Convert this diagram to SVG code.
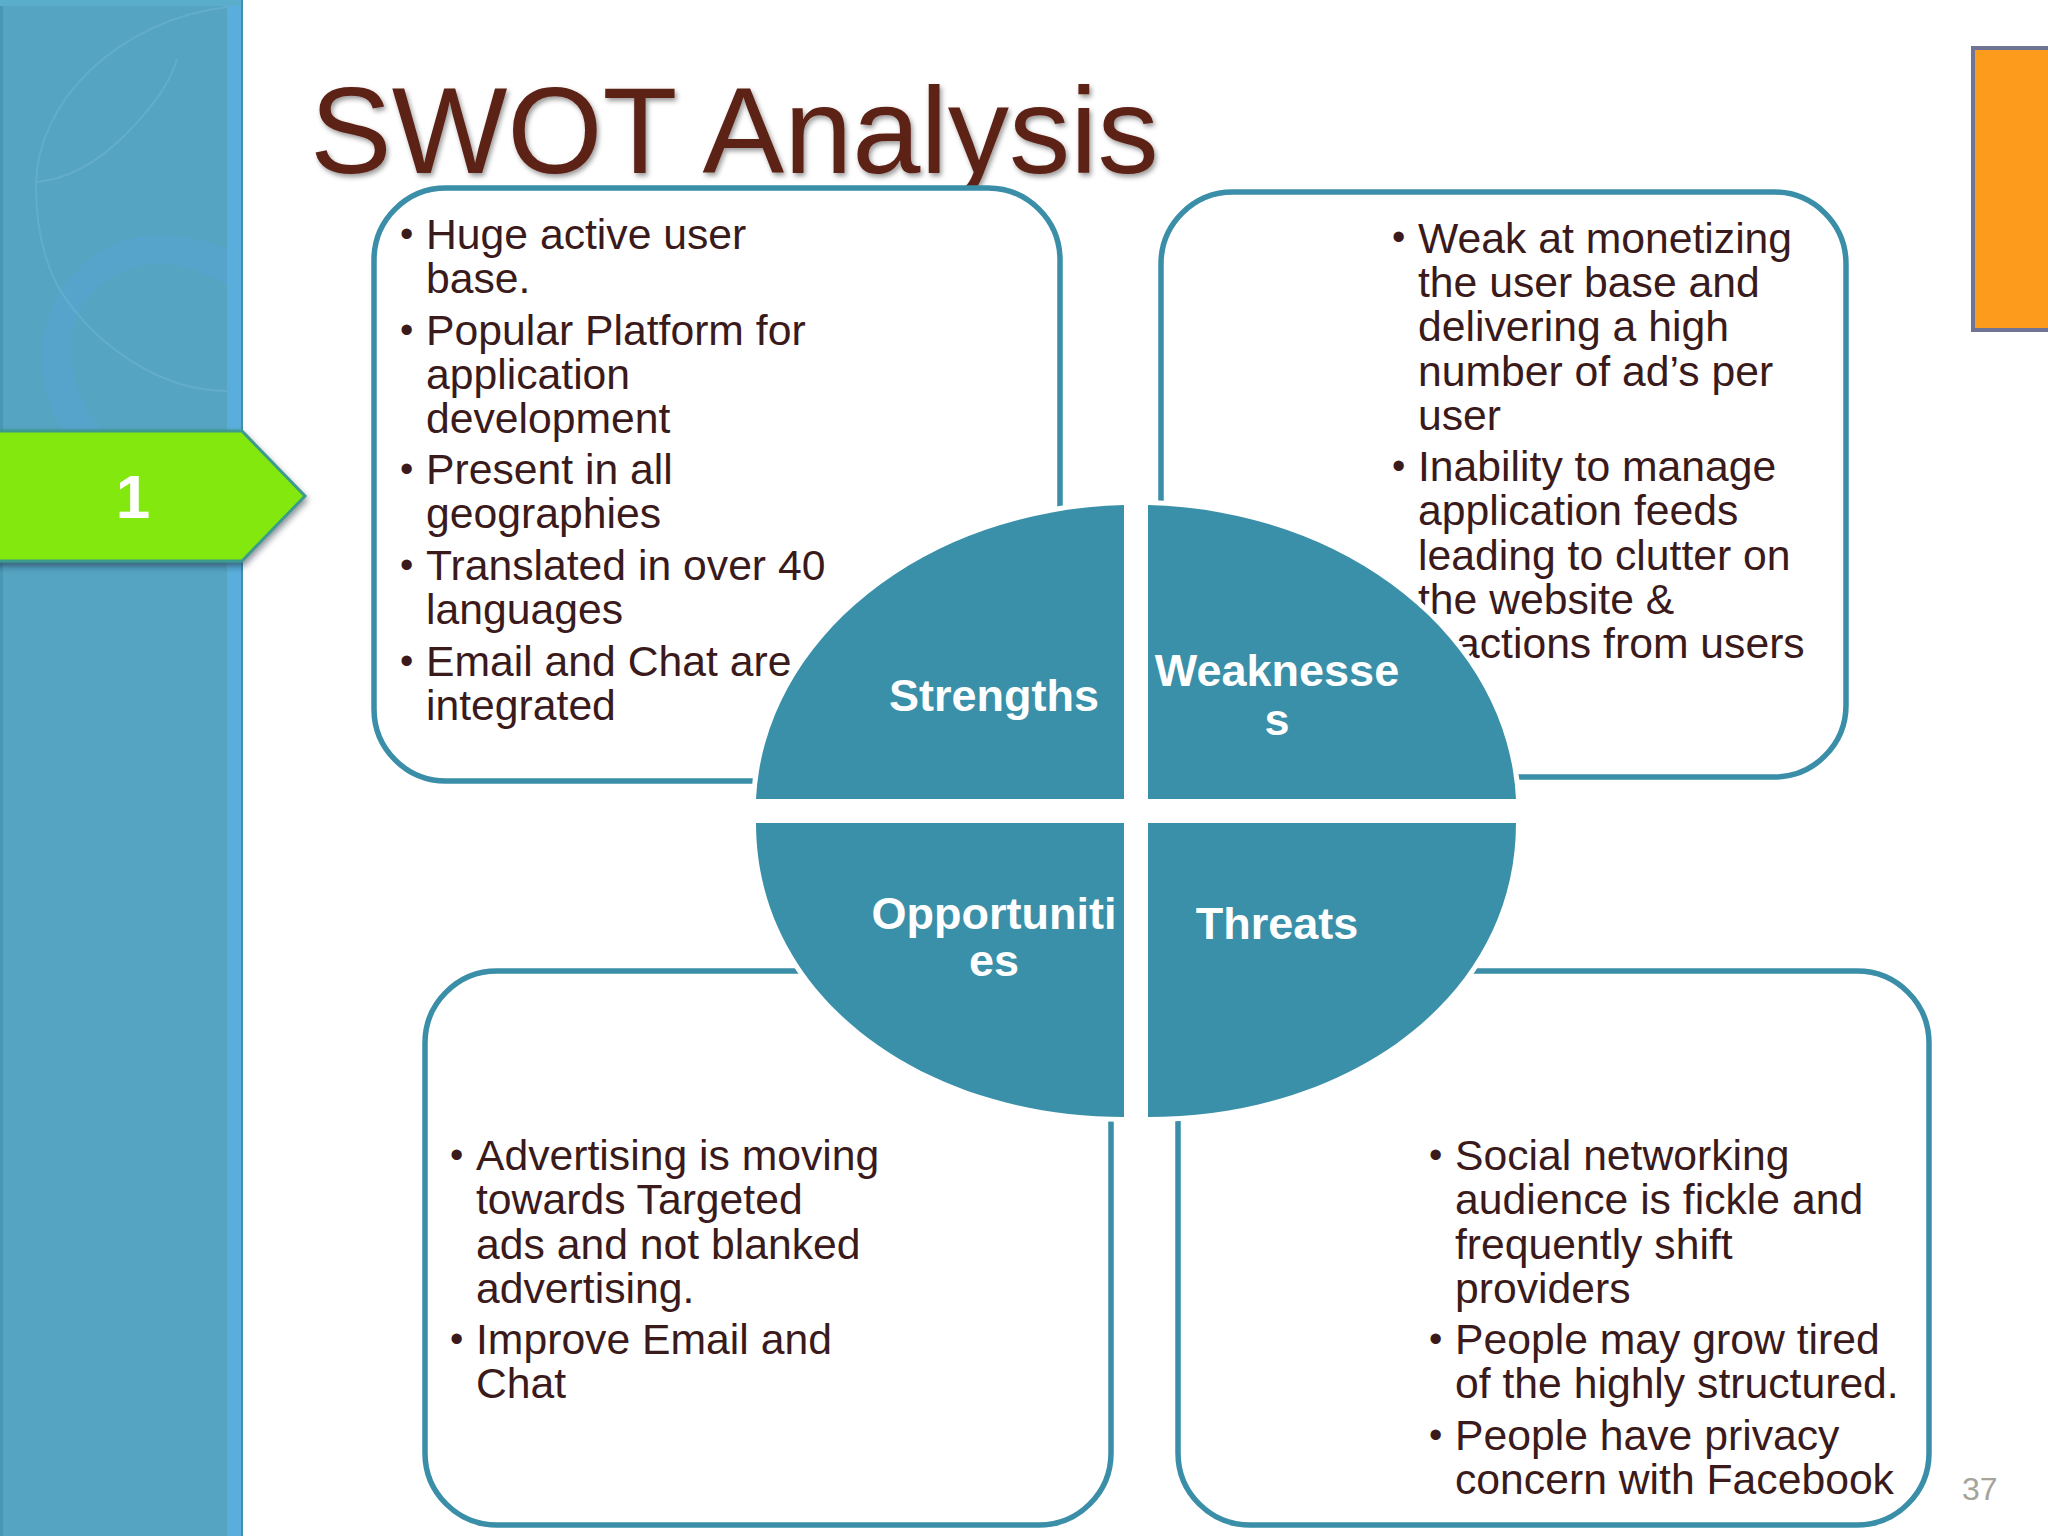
<svg xmlns="http://www.w3.org/2000/svg" width="2048" height="1536" viewBox="0 0 2048 1536">
<style>
text{font-family:"Liberation Sans",Arial,sans-serif}
.box{fill:#fff;stroke:#3b8ea8;stroke-width:5.5}
.b{font-size:42.7px;fill:#3a1a1a}
.d{font-size:38px;fill:#3a1a1a}
.q{fill:#3a90a8;stroke:#fff;stroke-width:10;paint-order:stroke}
.l{font-size:45px;font-weight:bold;fill:#fff;text-anchor:middle}
.arc{fill:none;stroke:#6db4d0;stroke-width:2;opacity:.6}
</style>
<defs>
<filter id="ts" x="-5%" y="-10%" width="110%" height="130%"><feDropShadow dx="2" dy="3" stdDeviation="2.5" flood-color="#000" flood-opacity=".4"/></filter>
<filter id="as" x="-5%" y="-10%" width="115%" height="130%"><feDropShadow dx="1" dy="4" stdDeviation="3" flood-color="#123" flood-opacity=".5"/></filter>
</defs>
<rect width="2048" height="1536" fill="#fff"/>
<g id="sidebar">
<rect x="0" y="0" width="242" height="1536" fill="#55a4c2"/>
<rect x="0" y="0" width="3" height="1536" fill="#4a97b5"/>
<rect x="227" y="0" width="15" height="1536" fill="#5aaedb"/>
<rect x="0" y="0" width="242" height="6" fill="#5aaecb"/>
<rect x="241" y="0" width="2" height="1536" fill="#3e8fb0"/>
<path d="M227 249C205 240 185 235 160 235 95 235 42 290 42 356 42 385 50 410 63 431H103C84 410 71 380 71 348 71 300 110 264 160 264 185 264 205 273 227 285Z" fill="#56a4cb"/>
<path d="M227 7C120 20 36 100 36 186 36 225 44 262 60 290 95 345 160 391 227 391" class="arc"/>
<path d="M36 182C60 180 90 170 125 135 150 110 170 85 177 59" class="arc" opacity=".35"/>
</g>
<g id="arrow-1">
<path d="M-6 431H242L305 496 242 561H-6Z" fill="#82e80a" stroke="#3d9a8e" stroke-width="3" filter="url(#as)"/>
<text x="133" y="518" font-size="62" font-weight="bold" fill="#fff" text-anchor="middle">1</text>
</g>
<g id="title"><text x="310" y="173" font-size="122.5" fill="#5c2116" filter="url(#ts)">SWOT Analysis</text></g>
<g id="accent"><rect x="1973" y="48" width="80" height="282" fill="#fd9c1c" stroke="#6f7394" stroke-width="4"/></g>
<g id="page"><text x="1962" y="1500" font-size="32" fill="#a6a39a">37</text></g>
<g id="box-strengths">
<rect class="box" x="374" y="188" width="686" height="593" rx="72"/>
<g class="b">
<text x="426" y="249">Huge active user</text><text x="426" y="293">base.</text>
<text x="426" y="345">Popular Platform for</text><text x="426" y="389">application</text><text x="426" y="433">development</text>
<text x="426" y="484">Present in all</text><text x="426" y="528">geographies</text>
<text x="426" y="580">Translated in over 40</text><text x="426" y="624">languages</text>
<text x="426" y="676">Email and Chat are</text><text x="426" y="720">integrated</text>
</g>
<g class="d"><text x="400" y="247">•</text><text x="400" y="343">•</text><text x="400" y="482">•</text><text x="400" y="578">•</text><text x="400" y="674">•</text></g>
</g>
<g id="box-weaknesses">
<rect class="box" x="1161" y="192" width="685" height="585" rx="72"/>
<g class="b">
<text x="1418" y="253">Weak at monetizing</text><text x="1418" y="297">the user base and</text><text x="1418" y="341">delivering a high</text><text x="1418" y="386">number of ad’s per</text><text x="1418" y="430">user</text>
<text x="1418" y="481">Inability to manage</text><text x="1418" y="525">application feeds</text><text x="1418" y="570">leading to clutter on</text><text x="1418" y="614">the website &amp;</text><text x="1418" y="658">reactions from users</text>
</g>
<g class="d"><text x="1392" y="250">•</text><text x="1392" y="479">•</text></g>
</g>
<g id="box-opportunities">
<rect class="box" x="425" y="971" width="686" height="554" rx="72"/>
<g class="b">
<text x="476" y="1170">Advertising is moving</text><text x="476" y="1214">towards Targeted</text><text x="476" y="1259">ads and not blanked</text><text x="476" y="1303">advertising.</text>
<text x="476" y="1354">Improve Email and</text><text x="476" y="1398">Chat</text>
</g>
<g class="d"><text x="450" y="1168">•</text><text x="450" y="1352">•</text></g>
</g>
<g id="box-threats">
<rect class="box" x="1178" y="971" width="751" height="554" rx="72"/>
<g class="b">
<text x="1455" y="1170">Social networking</text><text x="1455" y="1214">audience is fickle and</text><text x="1455" y="1259">frequently shift</text><text x="1455" y="1303">providers</text>
<text x="1455" y="1354">People may grow tired</text><text x="1455" y="1398">of the highly structured.</text>
<text x="1455" y="1450">People have privacy</text><text x="1455" y="1494">concern with Facebook</text>
</g>
<g class="d"><text x="1429" y="1168">•</text><text x="1429" y="1352">•</text><text x="1429" y="1448">•</text></g>
</g>
<g id="strengths">
<path class="q" d="M1124 505V799H756A380 306 0 0 1 1124 505Z"/>
<text class="l" x="994" y="711">Strengths</text>
</g>
<g id="weaknesses">
<path class="q" d="M1148 505V799H1516A380 306 0 0 0 1148 505Z"/>
<text class="l" x="1277" y="686">Weaknesse</text><text class="l" x="1277" y="735">s</text>
</g>
<g id="opportunities">
<path class="q" d="M1124 1117V823H756C756 996 921 1117 1124 1117Z"/>
<text class="l" x="994" y="929">Opportuniti</text><text class="l" x="994" y="976">es</text>
</g>
<g id="threats">
<path class="q" d="M1148 1117V823H1516C1516 996 1351 1117 1148 1117Z"/>
<text class="l" x="1277" y="939">Threats</text>
</g>
<g id="connectors"/>
</svg>
